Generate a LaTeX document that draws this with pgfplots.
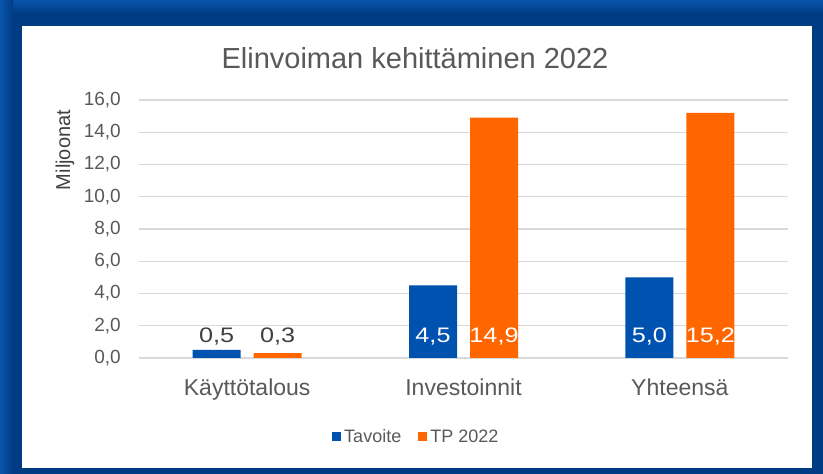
\documentclass[border=0pt]{standalone}
\usepackage{pgfplots}
\pgfplotsset{compat=1.18}
\usepackage{pgfplotstable}
\usepackage{fontspec}
\setmainfont{Liberation Sans}
\newfontfamily\labelfont[FakeStretch=1.2]{Liberation Sans}
\definecolor{myblue}{HTML}{0052B0}
\definecolor{myorange}{HTML}{FF6600}
\definecolor{txt}{HTML}{595959}
\definecolor{dtxt}{HTML}{404040}
\definecolor{gridc}{HTML}{D9D9D9}
\definecolor{frameA}{HTML}{0A55AE}
\definecolor{frameB}{HTML}{003C84}

\pgfplotstableread{
x tav tp
0 0.5 0.3
1 4.5 14.9
2 5.0 15.2
}\data

\begin{document}
\begin{tikzpicture}
\fill[frameB] (0,0) rectangle (823bp,474bp);
\shade[top color=frameA, bottom color=frameB] (0,461bp) rectangle (823bp,474bp);
\shade[left color=frameA, right color=frameB] (0,0) rectangle (13bp,474bp);
\fill[white] (22bp,6bp) rectangle (812bp,448bp);
\node[anchor=base, text=txt, font=\fontsize{29bp}{34bp}\selectfont] at (415bp,405bp) {Elinvoiman kehittäminen 2022};
\node[rotate=90, text=dtxt, font=\fontsize{20bp}{24bp}\selectfont] at (65bp,324bp) {Miljoonat};
\begin{axis}[
  at={(139bp,116bp)}, anchor=south west, scale only axis,
  width=649bp, height=258bp,
  xmin=-0.5, xmax=2.5, ymin=0, ymax=16,
  ybar, bar width=48bp,
  axis lines*=left,
  y axis line style={draw=none},
  x axis line style={draw=gridc, line width=1.2bp},
  major tick length=0pt,
  ytick={0,2,...,16},
  ymajorgrids, grid style={draw=gridc, line width=1.2bp},
  xtick={0,1,2},
  xticklabels={Käyttötalous, Investoinnit, Yhteensä},
  /pgf/number format/fixed, /pgf/number format/fixed zerofill,
  /pgf/number format/precision=1, /pgf/number format/use comma,
  /pgf/number format/assume math mode=true,
  yticklabel style={font=\fontsize{19bp}{22bp}\selectfont, text=txt, inner sep=0pt, anchor=east, xshift=-18bp},
  xticklabel style={font=\fontsize{23bp}{27bp}\selectfont, text=txt, inner sep=0pt, anchor=north, yshift=-21bp},
  legend style={draw=none, fill=none, at={(0.428,-0.306)}, anchor=center,
    legend columns=2, font=\fontsize{18bp}{21bp}\selectfont, text=txt,
    /tikz/every even column/.append style={column sep=14bp},
    nodes={inner sep=3bp}},
  legend image code/.code={\path[#1, draw=none] (0bp,-4.5bp) rectangle (9bp,4.5bp);},
  clip=false,
]
\addplot[fill=myblue, draw=none, bar shift=-30.5bp] table[x=x, y=tav]{\data};
\addplot[fill=myorange, draw=none, bar shift=30.5bp] table[x=x, y=tp]{\data};
\legend{Tavoite, TP 2022}
% data labels
\addplot[forget plot, draw=none, fill=none, bar shift=-30.5bp, skip coords between index={1}{3},
  nodes near coords, point meta=\thisrow{tav},
  every node near coord/.append style={anchor=base, yshift=15bp, inner sep=0pt, text=dtxt, font=\labelfont\fontsize{21bp}{25bp}\selectfont}]
  table[x=x, y expr=0]{\data};
\addplot[forget plot, draw=none, fill=none, bar shift=30.5bp, skip coords between index={1}{3},
  nodes near coords, point meta=\thisrow{tp},
  every node near coord/.append style={anchor=base, yshift=15bp, inner sep=0pt, text=dtxt, font=\labelfont\fontsize{21bp}{25bp}\selectfont}]
  table[x=x, y expr=0]{\data};
\addplot[forget plot, draw=none, fill=none, bar shift=-30.5bp, skip coords between index={0}{1},
  nodes near coords, point meta=\thisrow{tav},
  every node near coord/.append style={anchor=base, yshift=15bp, inner sep=0pt, text=white, font=\labelfont\fontsize{21bp}{25bp}\selectfont}]
  table[x=x, y expr=0]{\data};
\addplot[forget plot, draw=none, fill=none, bar shift=30.5bp, skip coords between index={0}{1},
  nodes near coords, point meta=\thisrow{tp},
  every node near coord/.append style={anchor=base, yshift=15bp, inner sep=0pt, text=white, font=\labelfont\fontsize{21bp}{25bp}\selectfont}]
  table[x=x, y expr=0]{\data};
\end{axis}
\pgfresetboundingbox
\path (0,0) rectangle (823bp,474bp);
\end{tikzpicture}
\end{document}
